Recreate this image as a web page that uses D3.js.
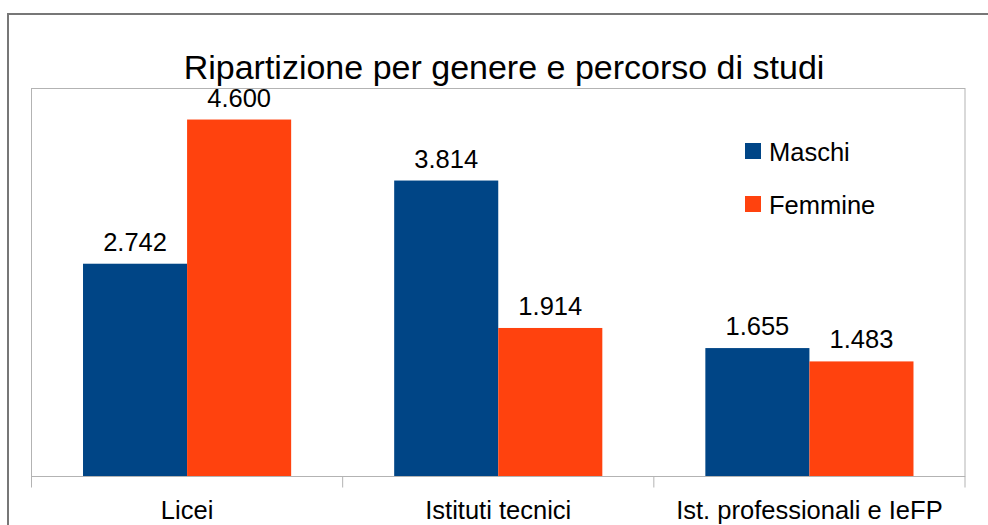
<!DOCTYPE html>
<html>
<head>
<meta charset="utf-8">
<script src="https://cdn.jsdelivr.net/npm/d3@7"></script>
<style>
  body { margin: 0; background: #fff; }
  text { font-family: "Liberation Sans", Arial, sans-serif; fill: #000; }
</style>
</head>
<body>
<div class="chart"></div>
<script>
var categories = ["Licei", "Istituti tecnici", "Ist. professionali e IeFP"];
var seriesNames = ["Maschi", "Femmine"];
var maschi = [2742, 3814, 1655];
var femmine = [4600, 1914, 1483];
var colors = ["#004586", "#ff420e"];

var svgWidth = 988;
var svgHeight = 525;

var plot = { left: 31.5, top: 88.5, right: 965, bottom: 476.5 };

var itFormat = d3.formatLocale({ decimal: ",", thousands: ".", grouping: [3], currency: ["", "€"] }).format(",d");

var svg = d3.select(".chart")
  .append("svg")
  .attr("width", svgWidth)
  .attr("height", svgHeight);

// outer border of the chart area
svg.append("rect")
  .attr("x", 8)
  .attr("y", 14)
  .attr("width", 1000)
  .attr("height", 600)
  .attr("fill", "none")
  .attr("stroke", "#777")
  .attr("stroke-width", 2);

// plot wall
svg.append("rect")
  .attr("x", plot.left)
  .attr("y", plot.top)
  .attr("width", plot.right - plot.left)
  .attr("height", plot.bottom - plot.top)
  .attr("fill", "none")
  .attr("stroke", "#b3b3b3");

var data = categories.map(function(c, i) {
  return { category: c, values: [maschi[i], femmine[i]] };
});

var xScale = d3.scaleBand()
  .domain(categories)
  .range([plot.left, plot.right]);

var xInner = d3.scaleBand()
  .domain(seriesNames)
  .range([0, xScale.bandwidth()])
  .paddingOuter(0.495);

var yScale = d3.scaleLinear()
  .domain([0, 5000])
  .range([plot.bottom, plot.top]);

var groups = svg.selectAll(".group")
  .data(data)
  .enter().append("g")
  .attr("class", "group")
  .attr("transform", function(d) { return "translate(" + xScale(d.category) + ",0)"; });

groups.selectAll("rect")
  .data(function(d) { return d.values.map(function(v, i) { return { name: seriesNames[i], value: v, color: colors[i] }; }); })
  .enter().append("rect")
  .attr("x", function(d) { return xInner(d.name); })
  .attr("y", function(d) { return yScale(d.value); })
  .attr("width", xInner.bandwidth())
  .attr("height", function(d) { return yScale(0) - yScale(d.value); })
  .attr("fill", function(d) { return d.color; });

groups.selectAll(".val")
  .data(function(d) { return d.values.map(function(v, i) { return { name: seriesNames[i], value: v }; }); })
  .enter().append("text")
  .attr("class", "val")
  .attr("x", function(d) { return xInner(d.name) + xInner.bandwidth() / 2; })
  .attr("y", function(d) { return yScale(d.value) - 13; })
  .attr("text-anchor", "middle")
  .style("font-size", "25.5px")
  .text(function(d) { return itFormat(d.value); });

// x axis
var bottomAxis = d3.axisBottom(xScale).tickSize(0).tickPadding(0);
var xAxis = svg.append("g")
  .attr("transform", "translate(0," + plot.bottom + ")")
  .call(bottomAxis);
xAxis.select(".domain").remove();
xAxis.selectAll("text")
  .attr("y", 42)
  .attr("dy", 0)
  .style("font-size", "25.5px")
  .style("font-family", "Liberation Sans, Arial, sans-serif")
  .attr("fill", "#000");

xAxis.append("line")
  .attr("x1", plot.left).attr("x2", plot.right)
  .attr("y1", 0).attr("y2", 0)
  .attr("stroke", "#b3b3b3");

var boundaries = categories.map(function(c) { return xScale(c); }).concat([plot.right]);
xAxis.selectAll(".sep")
  .data(boundaries)
  .enter().append("line")
  .attr("class", "sep")
  .attr("x1", function(d) { return d; }).attr("x2", function(d) { return d; })
  .attr("y1", 0).attr("y2", 11)
  .attr("stroke", "#b3b3b3");

// title
svg.append("text")
  .attr("x", 504)
  .attr("y", 79)
  .attr("text-anchor", "middle")
  .style("font-size", "34px")
  .text("Ripartizione per genere e percorso di studi");

// legend
var legend = svg.selectAll(".legend")
  .data(seriesNames)
  .enter().append("g")
  .attr("class", "legend")
  .attr("transform", function(d, i) { return "translate(745," + (143 + i * 53) + ")"; });

legend.append("rect")
  .attr("width", 16)
  .attr("height", 16)
  .attr("fill", function(d, i) { return colors[i]; });

legend.append("text")
  .attr("x", 24)
  .attr("y", 18)
  .style("font-size", "25.5px")
  .text(function(d) { return d; });
</script>
</body>
</html>
